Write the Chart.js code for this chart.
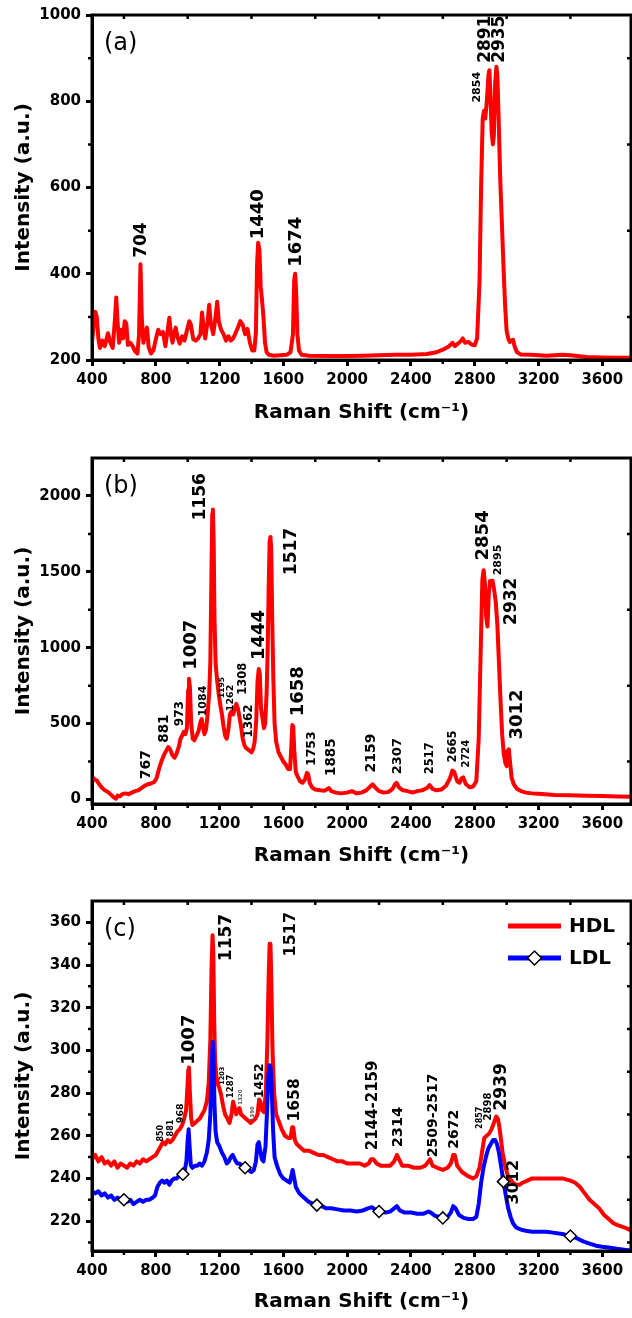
<!DOCTYPE html>
<html>
<head>
<meta charset="utf-8">
<title>Raman spectra (a) (b) (c)</title>
<script src="https://cdn.jsdelivr.net/npm/chart.js@4.4.1/dist/chart.umd.min.js"></script>
<style>
  html, body { margin: 0; padding: 0; background: #fff; }
  #wrap { position: relative; width: 632px; height: 1318px; overflow: hidden; }
  #wrap canvas { position: absolute; left: 0; }
</style>
</head>
<body>
<div id="wrap">
  <canvas id="chartA" width="632" height="443" style="top:0"></canvas>
  <canvas id="chartB" width="632" height="443" style="top:443px"></canvas>
  <canvas id="chartC" width="632" height="432" style="top:886px"></canvas>
</div>
<script>
// ------- Datos -------
const xTicks = [400, 800, 1200, 1600, 2000, 2400, 2800, 3200, 3600];
const aYTicks = [200, 400, 600, 800, 1000];
const bYTicks = [0, 500, 1000, 1500, 2000];
const cYTicks = [220, 240, 260, 280, 300, 320, 340, 360];

// (a) [Raman shift, intensity]
const spectrumA = [
  [400,240],[410,280],[420,312],[430,300],[440,250],[450,228],[465,245],[480,232],[500,262],[515,240],
  [530,228],[545,300],[552,345],[560,290],[570,240],[585,270],[595,250],[605,290],[615,285],[625,235],
  [640,240],[655,232],[670,220],[685,215],[695,260],[704,422],[712,300],[722,240],[735,262],[745,275],
  [755,230],[770,215],[785,222],[800,248],[815,270],[830,260],[845,265],[860,232],[875,270],[885,298],
  [895,260],[905,240],[915,262],[925,275],[935,255],[950,238],[965,255],[980,245],[995,268],[1010,290],
  [1020,282],[1035,248],[1050,245],[1065,250],[1080,260],[1090,310],[1100,275],[1110,250],[1125,290],[1135,328],
  [1145,285],[1160,260],[1175,300],[1185,335],[1195,290],[1210,270],[1225,260],[1240,245],[1255,255],[1270,245],
  [1285,250],[1300,262],[1315,275],[1330,290],[1345,282],[1360,260],[1375,272],[1390,240],[1405,222],[1418,222],
  [1428,265],[1435,420],[1442,472],[1450,455],[1458,370],[1466,340],[1475,300],[1485,240],[1495,218],[1510,212],
  [1540,210],[1580,211],[1620,212],[1645,218],[1660,260],[1668,385],[1674,400],[1680,360],[1688,260],[1698,222],
  [1715,212],[1760,210],[1900,209],[2000,209],[2100,210],[2200,211],[2300,212],[2400,212],[2500,214],[2560,218],
  [2600,224],[2640,232],[2660,240],[2675,232],[2695,238],[2715,245],[2725,250],[2740,240],[2760,242],[2780,236],
  [2800,234],[2815,250],[2830,380],[2840,600],[2850,760],[2858,778],[2866,760],[2876,800],[2886,860],[2892,872],
  [2898,820],[2906,730],[2914,700],[2920,720],[2928,840],[2936,880],[2942,860],[2950,760],[2960,620],[2970,520],
  [2980,420],[2990,330],[3000,268],[3010,250],[3020,242],[3030,245],[3040,247],[3050,232],[3065,218],[3090,213],
  [3150,212],[3250,210],[3350,212],[3400,211],[3500,207],[3600,206],[3700,205],[3800,205]
];

// (b)
const spectrumB = [
  [400,150],[410,140],[420,128],[430,125],[445,100],[460,80],[475,65],[490,55],[505,45],[520,30],
  [535,15],[550,5],[560,25],[575,20],[590,35],[610,40],[630,35],[650,45],[670,55],[690,60],
  [710,75],[730,90],[750,100],[770,105],[790,115],[805,140],[820,200],[835,250],[850,290],[865,320],
  [878,345],[890,330],[905,290],[918,275],[930,300],[945,350],[955,400],[965,420],[975,445],[985,430],
  [995,470],[1003,720],[1008,795],[1014,740],[1022,500],[1032,400],[1042,390],[1055,420],[1068,450],[1080,510],
  [1088,530],[1095,480],[1105,430],[1115,460],[1125,560],[1135,700],[1142,900],[1148,1400],[1154,1880],[1158,1910],
  [1163,1700],[1168,1200],[1175,900],[1185,780],[1195,690],[1205,620],[1215,560],[1225,480],[1235,420],[1245,400],
  [1255,460],[1265,560],[1275,580],[1285,560],[1295,600],[1305,630],[1315,600],[1325,540],[1335,480],[1345,400],
  [1355,360],[1365,340],[1378,330],[1390,320],[1400,310],[1410,330],[1420,380],[1430,520],[1438,780],[1446,860],
  [1452,830],[1460,600],[1470,530],[1478,470],[1486,500],[1495,700],[1502,1000],[1508,1400],[1514,1700],[1519,1730],
  [1524,1650],[1530,1200],[1537,800],[1545,500],[1555,380],[1570,310],[1585,280],[1600,250],[1615,230],[1630,200],
  [1642,200],[1650,350],[1656,490],[1662,480],[1668,330],[1678,180],[1690,150],[1705,120],[1720,110],[1735,130],
  [1748,175],[1756,165],[1765,110],[1780,80],[1800,65],[1830,60],[1860,58],[1885,75],[1900,55],[1930,45],
  [1960,40],[2000,45],[2030,55],[2060,40],[2090,45],[2120,60],[2145,85],[2160,100],[2175,80],[2200,55],
  [2230,45],[2260,50],[2285,70],[2300,100],[2310,110],[2325,80],[2350,60],[2380,55],[2410,45],[2440,55],
  [2470,60],[2500,75],[2517,95],[2535,70],[2560,60],[2590,65],[2620,90],[2645,140],[2660,190],[2672,180],
  [2690,120],[2705,110],[2718,140],[2728,145],[2745,100],[2770,80],[2790,85],[2810,120],[2825,400],[2838,1000],
  [2848,1450],[2856,1510],[2864,1420],[2872,1200],[2880,1140],[2888,1350],[2896,1440],[2904,1420],[2912,1440],[2922,1380],
  [2932,1300],[2942,1150],[2952,900],[2962,650],[2972,430],[2982,300],[2992,240],[3000,220],[3006,320],[3014,330],
  [3022,240],[3032,140],[3045,100],[3065,70],[3090,55],[3120,45],[3160,40],[3200,38],[3300,30],[3400,28],
  [3500,25],[3600,22],[3700,20],[3800,18]
];

// (c) HDL
const spectrumHDL = [
  [400,249],[420,251],[440,248],[460,250],[480,247],[500,248],[520,246],[540,248],[560,245],[580,247],
  [600,246],[620,245],[640,247],[660,246],[680,248],[700,247],[720,249],[740,248],[760,249],[780,250],
  [800,251],[815,253],[830,255],[845,257],[860,256],[875,258],[890,257],[905,258],[920,260],[935,262],
  [950,263],[965,265],[978,268],[990,272],[998,282],[1004,291],[1008,292],[1014,280],[1022,268],[1030,265],
  [1045,266],[1060,267],[1075,268],[1090,270],[1105,272],[1120,276],[1132,285],[1142,305],[1150,340],[1156,354],
  [1161,345],[1166,315],[1172,295],[1180,288],[1190,284],[1200,282],[1210,279],[1222,274],[1235,270],[1250,268],
  [1262,266],[1275,270],[1285,276],[1295,273],[1305,270],[1315,272],[1325,273],[1335,270],[1350,269],[1365,268],
  [1380,267],[1395,266],[1410,267],[1425,268],[1438,270],[1448,277],[1456,276],[1466,272],[1478,271],[1490,280],
  [1500,305],[1508,335],[1514,350],[1519,350],[1524,335],[1532,300],[1542,280],[1555,270],[1570,267],[1590,263],
  [1610,260],[1630,259],[1645,259],[1655,264],[1662,264],[1672,258],[1685,256],[1700,255],[1730,253],[1760,253],
  [1790,252],[1820,251],[1850,251],[1880,250],[1910,249],[1940,248],[1970,248],[2000,247],[2040,247],[2080,247],
  [2110,246],[2135,247],[2150,249],[2165,249],[2185,247],[2210,246],[2240,246],[2270,246],[2295,248],[2312,251],
  [2325,249],[2345,246],[2380,246],[2420,245],[2460,245],[2490,246],[2510,248],[2520,249],[2535,246],[2565,245],
  [2600,244],[2630,245],[2650,247],[2665,251],[2675,251],[2690,246],[2720,243],[2760,241],[2790,240],[2810,241],
  [2830,245],[2845,252],[2860,259],[2875,260],[2890,261],[2905,263],[2920,266],[2935,269],[2945,268],[2955,264],
  [2965,258],[2975,252],[2990,246],[3005,242],[3020,240],[3040,238],[3060,237],[3080,237],[3100,238],[3130,239],
  [3160,240],[3200,240],[3250,240],[3300,240],[3350,240],[3400,239],[3430,238],[3460,236],[3490,233],[3520,230],
  [3550,228],[3580,226],[3610,223],[3640,221],[3670,219],[3700,218],[3740,217],[3770,216],[3800,216]
];

// (c) LDL
const spectrumLDL = [
  [400,234],[420,233],[440,234],[460,232],[480,233],[500,231],[520,232],[540,230],[560,231],[580,230],
  [600,230],[620,229],[640,230],[660,228],[680,229],[700,230],[720,229],[740,230],[760,230],[780,231],
  [795,232],[810,236],[825,238],[840,239],[855,238],[870,239],[885,237],[900,239],[915,240],[930,240],
  [945,241],[960,242],[970,242],[982,244],[992,248],[1000,258],[1006,263],[1012,255],[1020,246],[1030,245],
  [1045,246],[1060,246],[1075,247],[1090,246],[1105,248],[1120,252],[1132,258],[1142,270],[1150,290],[1157,304],
  [1162,298],[1168,275],[1175,262],[1185,257],[1200,255],[1215,252],[1230,250],[1245,247],[1258,248],[1270,250],
  [1282,251],[1295,249],[1310,247],[1325,247],[1340,246],[1360,245],[1380,244],[1400,243],[1415,244],[1428,248],
  [1438,256],[1446,257],[1455,253],[1465,249],[1475,248],[1488,255],[1498,272],[1506,288],[1514,293],[1520,292],
  [1528,280],[1536,262],[1545,250],[1560,246],[1580,242],[1600,240],[1620,239],[1640,238],[1650,241],[1658,244],
  [1666,241],[1678,236],[1700,233],[1730,231],[1760,229],[1790,228],[1810,227.5],[1840,227],[1870,226],[1900,226],
  [1940,225.5],[1980,225],[2020,225],[2060,224.5],[2100,225],[2130,226],[2155,226.5],[2175,225.5],[2200,224.5],[2240,224],
  [2270,224.5],[2295,226],[2312,227],[2330,225],[2360,224],[2400,224],[2440,223.5],[2480,223.5],[2510,224.5],[2525,224],
  [2550,222.5],[2580,222],[2600,221.5],[2630,222],[2650,224],[2665,227],[2680,226],[2700,223],[2730,221.5],[2760,221],
  [2790,221],[2810,222],[2825,228],[2840,238],[2855,245],[2870,250],[2885,254],[2900,256],[2915,258],[2928,258],
  [2940,256],[2952,252],[2965,246],[2980,238.5],[2995,232],[3010,226],[3025,222],[3040,219],[3060,217],[3090,216],
  [3120,215.5],[3160,215],[3200,215],[3250,215],[3300,214.5],[3350,214],[3400,213],[3440,212],[3480,210.5],[3520,209.5],
  [3560,208.5],[3600,208],[3650,207.5],[3700,207],[3750,206.5],[3800,206]
];
const ldlMarkerShifts = [600, 970, 1360, 1810, 2200, 2600, 2980, 3400];

// Etiquetas de picos: texto, posición en unidades de datos (x, base del texto)
const peaksA = [
  { t: '704', x: 708, y: 437 }, { t: '1440', x: 1445, y: 480 }, { t: '1674', x: 1680, y: 416 },
  { t: '2854', x: 2815, y: 797 }, { t: '2891', x: 2866, y: 889 }, { t: '2935', x: 2955, y: 889 }
];
const peaksB = [
  { t: '767', x: 744, y: 133 }, { t: '881', x: 853, y: 374 }, { t: '973', x: 949, y: 483 },
  { t: '1007', x: 1025, y: 854 }, { t: '1084', x: 1100, y: 548 }, { t: '1156', x: 1079, y: 1838 },
  { t: '1195', x: 1215, y: 669 }, { t: '1262', x: 1268, y: 582 }, { t: '1308', x: 1345, y: 690 },
  { t: '1362', x: 1383, y: 407 }, { t: '1444', x: 1450, y: 919 }, { t: '1517', x: 1652, y: 1478 },
  { t: '1658', x: 1693, y: 548 }, { t: '1753', x: 1777, y: 220 }, { t: '1885', x: 1900, y: 155 },
  { t: '2159', x: 2150, y: 177 }, { t: '2307', x: 2315, y: 166 }, { t: '2517', x: 2521, y: 166 },
  { t: '2665', x: 2665, y: 243 }, { t: '2724', x: 2750, y: 210 }, { t: '2854', x: 2854, y: 1575 },
  { t: '2895', x: 2947, y: 1477 }, { t: '2932', x: 3030, y: 1150 }, { t: '3012', x: 3068, y: 395 }
];
const peaksC = [
  { t: '850', x: 834, y: 257.3 }, { t: '881', x: 895, y: 259.7 }, { t: '968', x: 958, y: 265.9 },
  { t: '1007', x: 1010, y: 293.3 }, { t: '1157', x: 1247, y: 341.8 }, { t: '1203', x: 1215, y: 283.9 },
  { t: '1287', x: 1272, y: 277.6 }, { t: '1320', x: 1331, y: 274.5 }, { t: '1390', x: 1404, y: 266.7 },
  { t: '1452', x: 1450, y: 277.6 }, { t: '1517', x: 1645, y: 344 }, { t: '1658', x: 1672, y: 266.7 },
  { t: '2144-2159', x: 2160, y: 253.2 }, { t: '2314', x: 2318, y: 254.6 }, { t: '2509-2517', x: 2538, y: 249.9 },
  { t: '2672', x: 2672, y: 253.9 }, { t: '2857', x: 2834, y: 263.2 }, { t: '2898', x: 2885, y: 267.2 },
  { t: '2939', x: 2968, y: 271.8 }, { t: '3012', x: 3044, y: 227.8 }
];

// tamaños de letra por etiqueta (px)
const peakSizesA = [17, 18, 18, 11, 17, 17];
const peakSizesB = [14, 13.5, 12, 18, 11, 17, 7.5, 9.5, 11.5, 12, 18, 17, 18, 12.5, 13.5, 14, 13, 11.5, 11.5, 10, 18, 11, 17, 18];
const peakSizesC = [8, 8, 9.5, 18, 17, 6.5, 8.5, 5.5, 5.5, 12.5, 16, 15.5, 15, 14.5, 14, 14, 8, 10, 17, 16];

// ------- Helpers -------
const FAMILY = '"DejaVu Sans", "Liberation Sans", sans-serif';
const tickFont = { family: FAMILY, weight: 'bold', size: 15 };
const titleFont = { family: FAMILY, weight: 'bold', size: 20 };

function pts(arr) { return arr.map(p => ({ x: p[0], y: p[1] })); }

function minorOf(ticks, min, max) {
    const step = ticks[1] - ticks[0];
    const out = [];
    for (let v = ticks[0] - step / 2; v < max; v += step) {
        if (v > min && v < max) out.push(v);
    }
    return out;
}

const gridOpts = { drawOnChartArea: false, drawTicks: true, tickLength: 6, tickWidth: 3, tickColor: '#000' };
const borderOpts = { display: true, color: '#000', width: 3 };

function xAxis(height, titlePad) {
    return {
        type: 'linear', min: 400, max: 3780,
        afterBuildTicks: s => { s.ticks = xTicks.map(v => ({ value: v })); },
        afterFit: s => { s.height = height; },
        ticks: { font: tickFont, color: '#000', padding: 5, maxRotation: 0, autoSkip: false, callback: v => String(v) },
        grid: gridOpts,
        border: borderOpts,
        title: { display: true, text: 'Raman Shift (cm\u207B\u00B9)', color: '#000', font: titleFont, padding: { top: 0, bottom: titlePad } }
    };
}

function yAxis(min, max, ticks) {
    return {
        type: 'linear', min, max,
        afterBuildTicks: s => { s.ticks = ticks.map(v => ({ value: v })); },
        afterFit: s => { s.width = 92; },
        ticks: { font: tickFont, color: '#000', padding: 5, autoSkip: false, callback: v => String(v) },
        grid: gridOpts,
        border: borderOpts,
        title: { display: true, text: 'Intensity (a.u.)', color: '#000', font: titleFont, padding: { top: 12, bottom: 0 } }
    };
}

// marco, ticks menores (abajo/izq hacia fuera, arriba/der hacia dentro)
const framePlugin = {
    id: 'frame',
    afterDraw(chart, args, o) {
        const { ctx, chartArea: a, scales: { x, y } } = chart;
        ctx.save();
        ctx.strokeStyle = '#000';
        ctx.lineWidth = 3;
        ctx.strokeRect(a.left, a.top, a.right - a.left, a.bottom - a.top);
        ctx.lineWidth = 2.5;
        ctx.beginPath();
        minorOf(xTicks, x.min, x.max).forEach(v => {
            const px = x.getPixelForValue(v);
            ctx.moveTo(px, a.bottom); ctx.lineTo(px, a.bottom + 4);
            ctx.moveTo(px, a.top); ctx.lineTo(px, a.top + 4);
        });
        minorOf(o.yTicks, y.min, y.max).forEach(v => {
            const py = y.getPixelForValue(v);
            ctx.moveTo(a.left, py); ctx.lineTo(a.left - 4, py);
            ctx.moveTo(a.right, py); ctx.lineTo(a.right - 4, py);
        });
        ctx.stroke();
        // letra del panel
        ctx.fillStyle = '#000';
        ctx.font = '24px ' + FAMILY;
        ctx.textAlign = 'left';
        ctx.textBaseline = 'alphabetic';
        ctx.fillText(o.tag, a.left + 12, a.top + 35);
        ctx.restore();
    }
};

// etiquetas verticales de los picos
const peakPlugin = {
    id: 'peaks',
    afterDatasetsDraw(chart, args, o) {
        const { ctx, scales: { x, y } } = chart;
        ctx.save();
        ctx.textAlign = 'left';
        ctx.textBaseline = 'middle';
        o.items.forEach((p, i) => {
            const size = o.sizes[i];
            ctx.save();
            ctx.translate(x.getPixelForValue(p.x), y.getPixelForValue(p.y));
            ctx.rotate(-Math.PI / 2);
            ctx.fillStyle = size < 6 ? '#555' : '#000';
            ctx.font = 'bold ' + size + 'px ' + FAMILY;
            ctx.fillText(p.t, 0, 0);
            ctx.restore();
        });
        ctx.restore();
    }
};

// leyenda del panel (c)
const keyPlugin = {
    id: 'key',
    afterDraw(chart, args, o) {
        if (!o.items) return;
        const { ctx, chartArea: a } = chart;
        ctx.save();
        o.items.forEach((it, i) => {
            const yy = a.top + 25 + i * 32;
            const x0 = a.right - 123, x1 = a.right - 70;
            ctx.strokeStyle = it.color;
            ctx.lineWidth = 5;
            ctx.beginPath(); ctx.moveTo(x0, yy); ctx.lineTo(x1, yy); ctx.stroke();
            if (it.marker) {
                ctx.fillStyle = '#fff';
                ctx.strokeStyle = '#000';
                ctx.lineWidth = 1.5;
                Chart.helpers.drawPoint(ctx, { pointStyle: 'rectRot', radius: 7, borderWidth: 1.5 }, (x0 + x1) / 2, yy);
            }
            ctx.fillStyle = '#000';
            ctx.font = 'bold 20px ' + FAMILY;
            ctx.textAlign = 'left';
            ctx.textBaseline = 'middle';
            ctx.fillText(it.label, a.right - 62, yy + 1);
        });
        ctx.restore();
    }
};

function panel(id, cfg) {
    return new Chart(document.getElementById(id), {
        type: 'line',
        data: { datasets: cfg.datasets },
        options: {
            responsive: false,
            animation: false,
            events: [],
            layout: { padding: { top: 15, right: 1, left: 0, bottom: 0 } },
            plugins: {
                legend: { display: false },
                tooltip: { enabled: false },
                frame: { yTicks: cfg.yTicks, tag: cfg.tag },
                peaks: { items: cfg.peaks, sizes: cfg.sizes },
                key: { items: cfg.key || null }
            },
            scales: {
                x: xAxis(cfg.xHeight, cfg.titlePad),
                y: yAxis(cfg.yMin, cfg.yMax, cfg.yTicks)
            }
        },
        plugins: [peakPlugin, framePlugin, keyPlugin]
    });
}

const lineStyle = { pointRadius: 0, tension: 0, borderJoinStyle: 'round', borderCapStyle: 'round' };

panel('chartA', {
    tag: '(a)', yMin: 200, yMax: 1000, yTicks: aYTicks, xHeight: 83, titlePad: 18,
    peaks: peaksA, sizes: peakSizesA,
    datasets: [Object.assign({ label: 'a', data: pts(spectrumA), borderColor: '#ff0000', borderWidth: 4 }, lineStyle)]
});

panel('chartB', {
    tag: '(b)', yMin: -30, yMax: 2250, yTicks: bYTicks, xHeight: 82, titlePad: 18,
    peaks: peaksB, sizes: peakSizesB,
    datasets: [Object.assign({ label: 'b', data: pts(spectrumB), borderColor: '#ff0000', borderWidth: 4 }, lineStyle)]
});

panel('chartC', {
    tag: '(c)', yMin: 206, yMax: 370, yTicks: cYTicks, xHeight: 67, titlePad: 4,
    peaks: peaksC, sizes: peakSizesC,
    key: [{ label: 'HDL', color: '#ff0000' }, { label: 'LDL', color: '#0000ff', marker: true }],
    datasets: [
        Object.assign({ label: 'HDL', data: pts(spectrumHDL), borderColor: '#ff0000', borderWidth: 4, order: 2 }, lineStyle),
        Object.assign({}, lineStyle, {
            label: 'LDL', data: pts(spectrumLDL), borderColor: '#0000ff', borderWidth: 4, order: 1,
            pointStyle: 'rectRot',
            pointRadius: c => (c.raw && ldlMarkerShifts.includes(c.raw.x)) ? 6 : 0,
            pointBackgroundColor: '#fff', pointBorderColor: '#000', pointBorderWidth: 1.5
        })
    ]
});
</script>
</body>
</html>
